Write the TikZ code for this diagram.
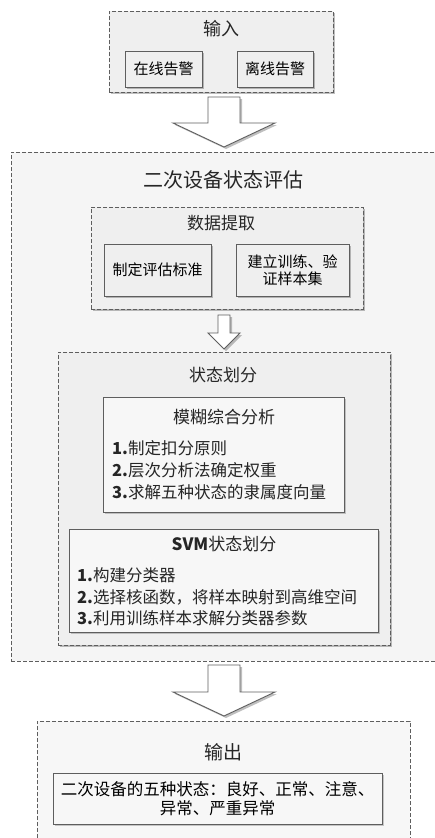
\documentclass[tikz,border=0pt]{standalone}
\usepackage{fontspec}
\setmainfont{Noto Sans CJK SC}
\usetikzlibrary{shadows}
\definecolor{edge}{HTML}{5E5E5E}
\definecolor{boxfill}{HTML}{EFEFEF}
\definecolor{mainfill}{HTML}{F5F5F5}
\tikzset{
  fs/.style={font=\fontsize{#1pt}{#1pt}\selectfont},
  base/.style={rectangle, inner sep=0pt, outer sep=0pt, line width=0.9pt, draw=edge},
  dbox/.style={base, dash pattern=on 4pt off 2pt, fill=boxfill,
    drop shadow={shadow xshift=2pt, shadow yshift=-2pt, opacity=0.25, fill=black}},
  mbox/.style={base, dash pattern=on 4pt off 2pt, fill=mainfill},
  sbox/.style={base, fill=boxfill,
    drop shadow={shadow xshift=2pt, shadow yshift=-2pt, opacity=0.25, fill=black}},
  wbox/.style={base, fill=white!97!black,
    drop shadow={shadow xshift=2pt, shadow yshift=-2pt, opacity=0.2, fill=black}},
  barrow/.style={draw=edge, line width=0.9pt, fill=white, line join=miter,
    drop shadow={shadow xshift=2pt, shadow yshift=-2pt, opacity=0.25, fill=black}},
  ttl/.style={inner sep=0pt, text=black!85},
  item/.style={inner sep=0pt, anchor=west, text=black!85, fs=16.5},
}
\begin{document}
\begin{tikzpicture}[x=1pt,y=-1pt]
\useasboundingbox (0,0) rectangle (434,838);
\fill[white] (0,0) rectangle (434,838);

% input
\node[dbox, minimum width=224pt, minimum height=81pt] (inbox) at (221,51.5) {};
\node[ttl, fs=18] (intitle) at (221,29) {输入};
\node[sbox, minimum width=77pt, minimum height=36pt, fs=15] (online) at (163.5,69) {在线告警};
\node[sbox, minimum width=76pt, minimum height=36pt, fs=15] (offline) at (275,69) {离线告警};

% arrow 1
\draw[barrow] (208,97) -- (240,97) -- (240,123) -- (275,123) -- (224,147) -- (173,123) -- (208,123) -- cycle;

% main box
\node[mbox, minimum width=440pt, minimum height=509pt] (main) at (231,406.5) {};
\node[ttl, fs=20] (maintitle) at (223,180) {二次设备状态评估};

% data extraction
\node[dbox, minimum width=272pt, minimum height=102pt] (data) at (227,258) {};
\node[ttl, fs=17] (datatitle) at (221,223) {数据提取};
\node[sbox, minimum width=107pt, minimum height=52pt, fs=15] (std) at (157.5,270) {制定评估标准};
\node[sbox, minimum width=113pt, minimum height=52pt, fs=15, align=center] (set) at (292.5,270) {建立训练、验\\[2pt]证样本集};

% small arrow
\draw[barrow] (218,315) -- (230,315) -- (230,333) -- (240,333) -- (224,349) -- (208,333) -- (218,333) -- cycle;

% state division
\node[dbox, minimum width=332pt, minimum height=293pt] (div) at (224,498.5) {};
\node[ttl, fs=17] (divtitle) at (223,375) {状态划分};

\node[wbox, minimum width=241pt, minimum height=115pt] (fuzzy) at (223.5,454.5) {};
\node[ttl, fs=17] (fuzzytitle) at (224,417) {模糊综合分析};
\node[item] (f1) at (112,448) {\textbf{1.}制定扣分原则};
\node[item] (f2) at (112,470) {\textbf{2.}层次分析法确定权重};
\node[item] (f3) at (112,492) {\textbf{3.}求解五种状态的隶属度向量};

\node[wbox, minimum width=309pt, minimum height=103pt] (svm) at (223.5,580.5) {};
\node[ttl, fs=17] (svmtitle) at (224,544) {\textbf{SVM}状态划分};
\node[item] (s1) at (77,575) {\textbf{1.}构建分类器};
\node[item] (s2) at (77,597) {\textbf{2.}选择核函数，将样本映射到高维空间};
\node[item] (s3) at (77,618) {\textbf{3.}利用训练样本求解分类器参数};

% arrow 2
\draw[barrow] (208,665) -- (240,665) -- (240,692) -- (275,692) -- (224,716) -- (173,692) -- (208,692) -- cycle;

% output
\node[mbox, fill=white!97!black, minimum width=373pt, minimum height=149pt] (out) at (223.5,795.5) {};
\node[ttl, fs=19] (outtitle) at (223,752) {输出};
\node[wbox, minimum width=329pt, minimum height=51pt, fs=16.5, align=center] (states) at (217.5,798.5) {二次设备的五种状态：良好、正常、注意、\\[3pt]异常、严重异常};
\end{tikzpicture}
\end{document}
